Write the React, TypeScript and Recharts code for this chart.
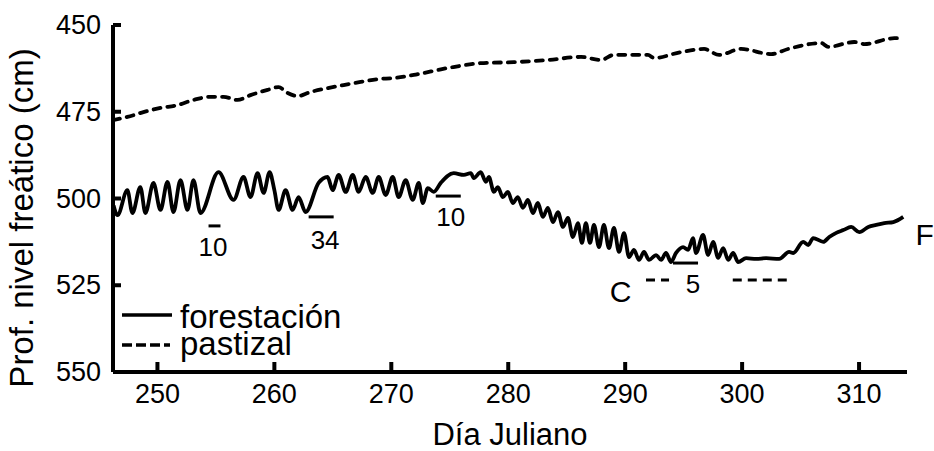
import React from 'react';
import { LineChart, Line, XAxis, YAxis, ReferenceLine, ReferenceDot, Label } from 'recharts';

const FUENTE = '"Liberation Sans", Arial, sans-serif';

// Ejes
const ticksX = [250, 260, 270, 280, 290, 300, 310];
const ticksY = [450, 475, 500, 525, 550];

// Forestación (nivel freático, cm)
const diasForestacion = [
  246.25, 246.58, 247.43, 247.86, 248.54, 248.97, 249.66, 250.26, 250.86, 251.37,
  251.97, 252.57, 253.08, 253.68, 255.22, 256.51, 257.36, 257.96, 258.56, 259.08,
  259.59, 260.0, 260.36, 260.96, 261.56, 262.07, 262.67, 263.78, 264.55, 264.98,
  265.5, 266.1, 266.7, 267.2, 267.81, 268.41, 268.92, 269.52, 270.12, 270.63,
  271.23, 271.83, 272.35, 272.69, 273.12, 273.63, 274.23, 275.34, 276.2, 276.8,
  277.05, 277.65, 278.08, 278.34, 278.77, 279.11, 279.54, 279.97, 280.39, 280.82,
  281.25, 281.68, 282.11, 282.53, 282.96, 283.39, 283.82, 284.25, 284.68, 285.1,
  285.53, 285.96, 286.3, 286.64, 286.99, 287.33, 287.76, 288.18, 288.61, 289.04,
  289.47, 289.9, 290.33, 290.75, 291.18, 291.61, 292.04, 292.64, 293.07, 293.49,
  293.92, 294.35, 294.95, 295.38, 295.8, 296.06, 296.66, 297.09, 297.52, 297.95,
  298.38, 298.81, 299.23, 299.66, 300.34, 301.2, 302.05, 303.17, 304.02, 304.37,
  305.22, 305.65, 306.08, 306.94, 307.45, 308.05, 308.65, 309.33, 310.02, 310.79,
  311.47, 312.16, 312.93, 313.78,
];
const forestacion = [
  502.0, 504.8, 497.6, 504.2, 496.7, 504.2, 495.5, 503.3, 495.2, 503.9,
  494.7, 503.3, 494.7, 504.2, 492.4, 500.4, 493.8, 499.6, 492.7, 498.4,
  492.4, 497.6, 503.3, 497.6, 503.3, 499.6, 503.9, 495.5, 493.8, 497.6,
  493.2, 498.1, 493.2, 498.1, 493.8, 498.4, 493.8, 499.0, 493.8, 499.6,
  494.7, 500.4, 495.5, 501.3, 497.0, 498.1, 495.5, 492.7, 493.2, 492.7,
  494.1, 492.4, 495.2, 493.8, 498.1, 496.7, 499.6, 498.1, 501.3, 499.6,
  502.7, 500.4, 504.2, 501.3, 505.3, 502.7, 506.8, 503.9, 508.2, 505.6,
  511.1, 507.1, 512.8, 507.1, 512.8, 507.6, 514.0, 507.6, 514.3, 508.5,
  515.4, 510.0, 516.9, 514.8, 517.7, 515.4, 517.7, 516.3, 517.7, 515.7,
  518.3, 515.7, 514.0, 514.8, 511.4, 515.7, 510.5, 516.3, 512.5, 517.1,
  514.3, 517.7, 515.7, 518.3, 517.2, 517.4, 517.2, 517.4, 515.4, 515.7,
  512.5, 513.4, 511.4, 512.5, 511.1, 509.9, 509.1, 508.2, 509.7, 508.2,
  507.6, 507.1, 506.8, 505.3,
];

// Pastizal (nivel freático, cm)
const diasPastizal = [
  246.2, 247.43, 248.8, 250.26, 251.71, 253.08, 254.54, 255.65, 256.85, 257.96,
  259.42, 260.36, 261.13, 261.99, 263.1, 264.55, 265.92, 267.38, 268.84, 270.21,
  271.92, 274.83, 277.65, 280.48, 283.39, 286.22, 287.93, 289.04, 291.95, 292.47,
  294.78, 296.75, 298.03, 299.92, 302.48, 303.94, 306.77, 307.36, 309.59, 310.45,
  313.02, 313.44,
];
const pastizal = [
  477.4, 476.5, 475.1, 473.9, 473.1, 471.6, 470.7, 470.7, 471.6, 470.2,
  468.7, 467.9, 469.6, 470.5, 469.3, 468.2, 467.3, 466.4, 465.6, 465.3,
  464.4, 462.4, 461.0, 460.7, 460.1, 459.2, 460.1, 458.6, 458.6, 459.5,
  457.8, 456.9, 458.6, 456.9, 458.4, 456.9, 455.2, 456.3, 454.9, 455.5,
  453.8, 453.8,
];

// Anotaciones
const barras = [
  { x1: 254.37, x2: 255.39, y: 507.9 },
  { x1: 262.93, x2: 265.07, y: 505.3 },
  { x1: 273.8, x2: 275.94, y: 499.3 },
  { x1: 294.09, x2: 296.23, y: 518.6 },
];
const barrasCorte = [
  { x1: 291.78, x2: 293.75, y: 523.5 },
  { x1: 299.2, x2: 304.0, y: 523.5 },
];
const etiquetas = [
  { texto: '10', x: 254.75, y: 514.0, size: 26 },
  { texto: '34', x: 264.34, y: 512.0, size: 26 },
  { texto: '10', x: 275.09, y: 505.3, size: 26 },
  { texto: '5', x: 295.8, y: 524.6, size: 26 },
  { texto: 'C', x: 289.6, y: 526.7, size: 30 },
  { texto: 'F', x: 315.6, y: 510.2, size: 30 },
];

const datosForestacion = diasForestacion.map((dia, i) => ({ dia, nivel: forestacion[i] }));
const datosPastizal = diasPastizal.map((dia, i) => ({ dia, nivel: pastizal[i] }));

const TickY = (props: any) => {
  const { x, y, payload } = props;
  return (
    <g>
      <line x1={x} y1={y} x2={x + 8} y2={y} stroke="#000" strokeWidth={4} />
      <text x={x - 12} y={y} textAnchor="end" dominantBaseline="central" fontSize={27} fontFamily={FUENTE} fill="#000">
        {payload.value}
      </text>
    </g>
  );
};

const TickX = (props: any) => {
  const { x, y, payload } = props;
  return (
    <g>
      <line x1={x} y1={y} x2={x} y2={y - 10} stroke="#000" strokeWidth={4} />
      <text x={x} y={y + 31} textAnchor="middle" fontSize={27} fontFamily={FUENTE} fill="#000">
        {payload.value}
      </text>
    </g>
  );
};

// leyenda dibujada aparte para que no le quite espacio al gráfico
const Leyenda = () => (
  <svg width={260} height={70} style={{ position: 'absolute', left: 118, top: 295 }}>
    <line x1={4} y1={20} x2={54} y2={20} stroke="#000" strokeWidth={3.5} />
    <text x={62} y={33} fontSize={33} fontFamily={FUENTE} fill="#000">forestación</text>
    <line x1={4} y1={50} x2={52} y2={50} stroke="#000" strokeWidth={3.5} strokeDasharray="10 4" />
    <text x={62} y={60} fontSize={33} fontFamily={FUENTE} fill="#000">pastizal</text>
  </svg>
);

const App: React.FC = () => {
  return (
    <div style={{ position: 'absolute', left: 0, top: 0, width: 934, height: 451, background: '#fff' }}>
      <LineChart width={934} height={451} margin={{ top: 25, right: 27, bottom: 0, left: 13 }}>
        <XAxis
          type="number"
          dataKey="dia"
          domain={[246.2, 314.1]}
          ticks={ticksX}
          allowDataOverflow
          height={79}
          axisLine={{ stroke: '#000', strokeWidth: 4 }}
          tickLine={false}
          tickSize={0}
          tickMargin={0}
          tick={<TickX />}
        >
          <Label
            content={() => (
              <text x={510} y={445} textAnchor="middle" fontSize={31} fontFamily={FUENTE} fill="#000">
                Día Juliano
              </text>
            )}
          />
        </XAxis>
        <YAxis
          type="number"
          domain={[450, 550]}
          reversed
          ticks={ticksY}
          allowDataOverflow
          width={100}
          axisLine={{ stroke: '#000', strokeWidth: 4 }}
          tickLine={false}
          tickSize={0}
          tickMargin={0}
          tick={<TickY />}
        >
          <Label
            content={() => (
              <text
                x={33}
                y={218}
                transform="rotate(-90 33 218)"
                textAnchor="middle"
                fontSize={33}
                fontFamily={FUENTE}
                fill="#000"
              >
                Prof. nivel freático (cm)
              </text>
            )}
          />
        </YAxis>
        <Line
          data={datosPastizal}
          dataKey="nivel"
          name="pastizal"
          type="monotone"
          stroke="#000"
          strokeWidth={3.8}
          strokeDasharray="7 7"
          strokeLinecap="round"
          dot={false}
          activeDot={false}
          isAnimationActive={false}
        />
        <Line
          data={datosForestacion}
          dataKey="nivel"
          name="forestación"
          type="monotone"
          stroke="#000"
          strokeWidth={3.8}
          strokeLinejoin="round"
          dot={false}
          activeDot={false}
          isAnimationActive={false}
        />
        {barras.map((b, i) => (
          <ReferenceLine
            key={'b' + i}
            segment={[{ x: b.x1, y: b.y }, { x: b.x2, y: b.y }]}
            stroke="#000"
            strokeWidth={3}
          />
        ))}
        {barrasCorte.map((b, i) => (
          <ReferenceLine
            key={'c' + i}
            segment={[{ x: b.x1, y: b.y }, { x: b.x2, y: b.y }]}
            stroke="#000"
            strokeWidth={3}
            strokeDasharray="9 6"
          />
        ))}
        {etiquetas.map((e, i) => (
          <ReferenceDot
            key={'e' + i}
            x={e.x}
            y={e.y}
            r={1}
            fill="none"
            stroke="none"
            ifOverflow="visible"
            label={{ value: e.texto, position: 'center', fontSize: e.size, fill: '#000', fontFamily: FUENTE }}
          />
        ))}
      </LineChart>
      <Leyenda />
    </div>
  );
};

export default App;
